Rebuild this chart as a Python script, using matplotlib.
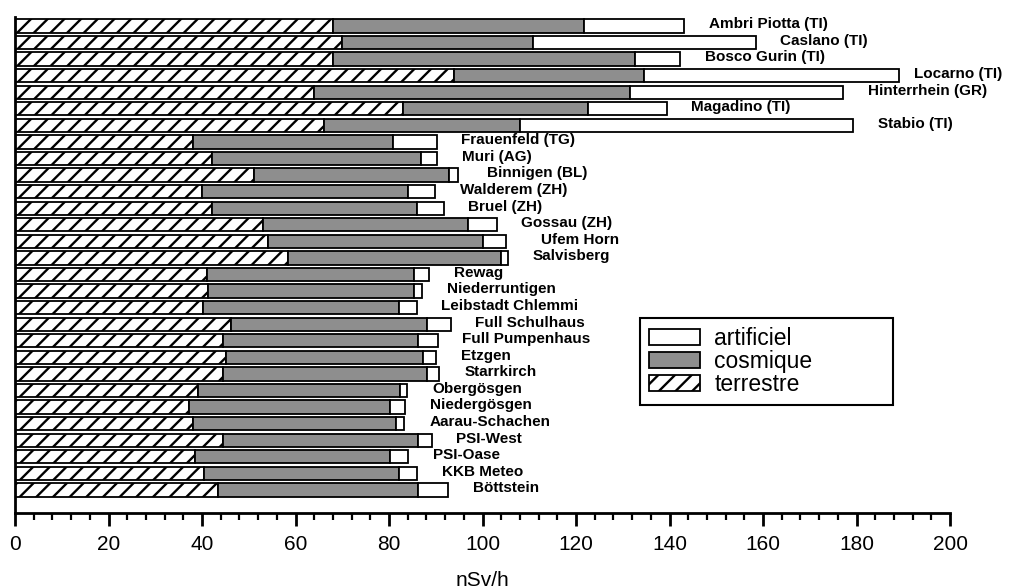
import matplotlib
matplotlib.use('Agg')
import matplotlib.pyplot as plt
from matplotlib.ticker import MultipleLocator
import numpy as np

plt.rcParams['font.family'] = ['Liberation Sans', 'DejaVu Sans']
plt.rcParams['hatch.linewidth'] = 1.7
plt.rcParams['hatch.color'] = 'black'

stations = ['Ambri Piotta (TI)', 'Caslano (TI)', 'Bosco Gurin (TI)', 'Locarno (TI)',
            'Hinterrhein (GR)', 'Magadino (TI)', 'Stabio (TI)', 'Frauenfeld (TG)',
            'Muri (AG)', 'Binnigen (BL)', 'Walderem (ZH)', 'Bruel (ZH)', 'Gossau (ZH)',
            'Ufem Horn', 'Salvisberg', 'Rewag', 'Niederruntigen', 'Leibstadt Chlemmi',
            'Full Schulhaus', 'Full Pumpenhaus', 'Etzgen', 'Starrkirch', 'Obergösgen',
            'Niedergösgen', 'Aarau-Schachen', 'PSI-West', 'PSI-Oase', 'KKB Meteo',
            'Böttstein']
terrestre = [68.0, 70.0, 68.0, 93.8, 64.0, 82.9, 66.1, 38.0, 42.1, 51.2, 40.0, 42.2,
             53.1, 54.2, 58.3, 41.1, 41.3, 40.3, 46.1, 44.5, 45.2, 44.5, 39.2, 37.3,
             38.1, 44.5, 38.4, 40.5, 43.5]
cosmique = [53.7, 40.7, 64.6, 40.7, 67.6, 39.7, 41.9, 42.9, 44.7, 41.6, 44.1, 43.7,
            43.8, 45.9, 45.7, 44.3, 44.1, 41.8, 42.1, 41.7, 42.1, 43.7, 43.2, 43.0,
            43.3, 41.8, 41.9, 41.7, 42.8]
artificiel = [21.5, 47.7, 9.7, 54.6, 45.6, 16.8, 71.2, 9.3, 3.5, 1.9, 5.7, 5.8,
              6.1, 5.0, 1.4, 3.1, 1.7, 3.8, 5.0, 4.2, 2.7, 2.6, 1.5, 3.2,
              1.9, 2.8, 3.8, 3.8, 6.4]

t = np.array(terrestre)
c = np.array(cosmique)
a = np.array(artificiel)
y = np.arange(len(stations))

fig = plt.figure(figsize=(10.12, 5.88), dpi=100)
ax = fig.add_axes([15 / 1012, 75 / 588, 935 / 1012, 496 / 588])

h = 0.8
ax.barh(y, t, height=h, color='white', edgecolor='black', linewidth=1.3,
        hatch='//', label='terrestre')
ax.barh(y, c, left=t, height=h, color='#8e8e8e', edgecolor='black', linewidth=1.3,
        label='cosmique')
ax.barh(y, a, left=t + c, height=h, color='white', edgecolor='black', linewidth=1.3,
        label='artificiel')

# label gaps (data units); a few labels sit closer/further from their bar
gap = {'Locarno (TI)': 3.2, 'Binnigen (BL)': 6.2, 'Ufem Horn': 7.5}
for i, name in enumerate(stations):
    tot = t[i] + c[i] + a[i]
    ax.text(tot + gap.get(name, 5.3), i - 0.1, name, ha='left', va='center',
            fontsize=11, fontweight='bold')

ax.set_xlim(0, 200)
ax.set_ylim(29.39, -0.54)
ax.set_yticks([])
ax.xaxis.set_major_locator(MultipleLocator(20))
ax.xaxis.set_minor_locator(MultipleLocator(4))
ax.tick_params(axis='x', which='major', length=9, width=2, labelsize=15, pad=7)
ax.tick_params(axis='x', which='minor', length=5, width=1.6)
for s in ['top', 'right']:
    ax.spines[s].set_visible(False)
ax.spines['left'].set_linewidth(2)
ax.spines['bottom'].set_linewidth(2)
ax.set_xlabel('nSv/h', fontsize=15, labelpad=12)

handles, labels = ax.get_legend_handles_labels()
leg = fig.legend(handles[::-1], labels[::-1], loc='upper left',
                 bbox_to_anchor=(640 / 1012, 186 / 588, 253 / 1012, 84 / 588),
                 bbox_transform=fig.transFigure, mode='expand', borderaxespad=0,
                 fontsize=16.5, handlelength=2.2, handleheight=0.68,
                 handletextpad=0.65, labelspacing=0.0, borderpad=0.4,
                 fancybox=False, framealpha=1, edgecolor='black')
leg.get_frame().set_linewidth(1.5)

fig.savefig('out.png', dpi=100)
